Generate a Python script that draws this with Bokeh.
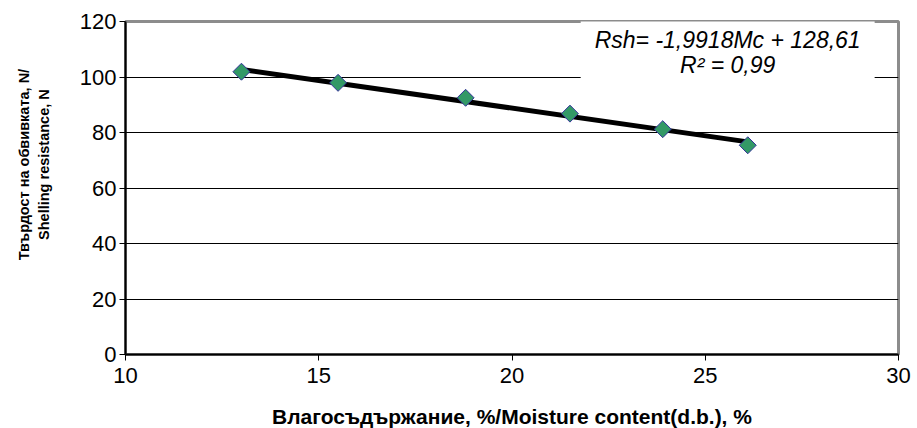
import math
from bokeh.plotting import figure
from bokeh.layouts import row, column
from bokeh.models import Range1d, FixedTicker, Label, ColumnDataSource
from bokeh.core.properties import value
from bokeh.embed import file_html
from bokeh.resources import INLINE

# ---- data ----
moisture = [13.0, 15.5, 18.8, 21.5, 23.9, 26.1]
resistance = [101.9, 97.9, 92.5, 86.8, 81.2, 75.4]
slope = -1.9918
intercept = 128.61
x_ticks = [10, 15, 20, 25, 30]
y_ticks = [0, 20, 40, 60, 80, 100, 120]
eq_text = "Rsh= -1,9918Mc + 128,61\nR\u00b2 = 0,99"
x_title = "Влагосъдържание, %/Moisture content(d.b.), %"
y_title_lines = ["Твърдост на обвивката, N/", "Shelling resistance, N"]

FONT = "Liberation Sans"
W, H = 917, 428
TW = 62   # width of the y-title strip
BH = 30   # height of the x-title strip
MH = H - BH


def strip(width, height):
    f = figure(width=width, height=height, output_backend="svg", toolbar_location=None,
               x_range=Range1d(0, width), y_range=Range1d(0, height),
               x_axis_type=None, y_axis_type=None,
               min_border_left=0, min_border_right=0, min_border_top=0, min_border_bottom=0)
    f.outline_line_color = None
    f.grid.visible = False
    f.background_fill_color = "white"
    f.border_fill_color = "white"
    return f


# ---- y-title strip (pixel coordinates) ----
t = strip(TW, MH)
t.text(x=[23, 43], y=[MH - 171, MH - 171], text=y_title_lines, angle=math.pi / 2,
       text_align="center", text_baseline="middle",
       text_font=value(FONT), text_font_style="bold", text_font_size="14.5px",
       text_color="black")

# ---- main chart ----
p = figure(width=W - TW, height=MH, output_backend="svg", toolbar_location=None,
           x_range=Range1d(x_ticks[0], x_ticks[-1]), y_range=Range1d(y_ticks[0], y_ticks[-1]),
           min_border_left=125 - TW, min_border_right=19, min_border_top=21, min_border_bottom=44)
p.background_fill_color = "white"
p.border_fill_color = "white"
p.outline_line_color = "#8c8c8c"
p.outline_line_width = 3

p.xaxis.ticker = FixedTicker(ticks=x_ticks)
p.yaxis.ticker = FixedTicker(ticks=y_ticks)
for ax in (p.xaxis, p.yaxis):
    ax.axis_line_color = "black"
    ax.axis_line_width = 2
    ax.major_tick_line_color = "black"
    ax.major_tick_line_width = 1
    ax.major_tick_in = 0
    ax.major_tick_out = 6
    ax.minor_tick_line_color = None
    ax.major_label_text_font = FONT
    ax.major_label_text_font_size = "22px"
    ax.major_label_text_color = "black"
p.yaxis.major_label_standoff = 3
p.xaxis.major_label_standoff = 7

p.xgrid.grid_line_color = None
p.ygrid.ticker = FixedTicker(ticks=y_ticks[1:-1])
p.ygrid.grid_line_color = "black"
p.ygrid.grid_line_width = 1

# linear trend line (from the displayed regression coefficients) over the data range
xs_fit = [min(moisture), max(moisture)]
ys_fit = [slope * v + intercept for v in xs_fit]
p.line(xs_fit, ys_fit, line_color="black", line_width=5)

src = ColumnDataSource(dict(x=moisture, y=resistance))
p.scatter("x", "y", source=src, marker="square", angle=math.pi / 4, size=12,
          fill_color="#339966", line_color="#333399", line_width=1)

eq = Label(x=25.58, y=108.8, text=eq_text, text_align="center", text_baseline="middle",
           text_font=FONT, text_font_style="italic", text_font_size="23px", text_color="black",
           text_line_height=0.95,
           background_fill_color="white", background_fill_alpha=1.0, padding=14)
p.add_layout(eq)

# ---- x-title strip (pixel coordinates) ----
b = strip(W, BH)
b.text(x=[511.5], y=[H - 416], text=[x_title], text_align="center", text_baseline="middle",
       text_font=value(FONT), text_font_style="bold", text_font_size="21px",
       text_color="black")

layout = column(row(t, p, spacing=0), b, spacing=0)
open("out.html", "w").write(file_html(layout, INLINE))
